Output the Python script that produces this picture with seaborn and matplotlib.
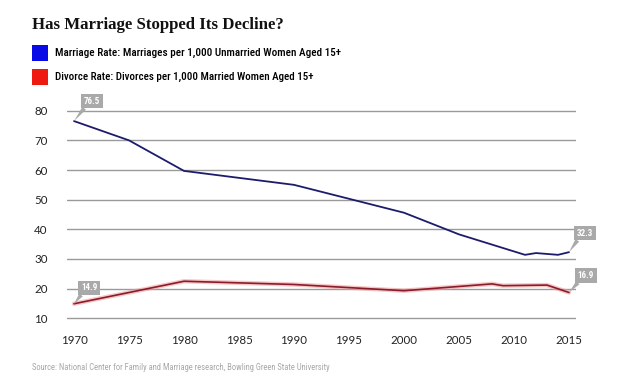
import seaborn as sns
import matplotlib.pyplot as plt
from matplotlib.patches import Rectangle
from matplotlib import font_manager as fm

# data
marriage_years = [1970, 1975, 1980, 1990, 2000, 2005, 2011, 2012, 2014, 2015]
marriage_rate = [76.5, 70.0, 59.7, 55.0, 45.6, 38.3, 31.4, 32.0, 31.4, 32.3]
divorce_years = [1970, 1980, 1990, 2000, 2008, 2009, 2013, 2015]
divorce_rate = [14.9, 22.5, 21.4, 19.3, 21.6, 21.0, 21.2, 18.7]

x_ticks = [1970, 1975, 1980, 1985, 1990, 1995, 2000, 2005, 2010, 2015]
y_ticks = [10, 20, 30, 40, 50, 60, 70, 80]

title = 'Has Marriage Stopped Its Decline?'
legend_labels = ['Marriage Rate: Marriages per 1,000 Unmarried Women Aged 15+',
                 'Divorce Rate: Divorces per 1,000 Married Women Aged 15+']
source = 'Source: National Center for Family and Marriage research, Bowling Green State University'

# callouts: (label, year, value, dx px, dy px)
callouts = [('76.5', 1970, 76.5, 18, 20),
            ('14.9', 1970, 14.9, 15, 16),
            ('32.3', 2015, 32.3, 16, 19),
            ('16.9', 2015, 18.7, 17, 17)]

sns.set_style('white')
plt.rcParams['font.family'] = ['Lato', 'DejaVu Sans']

# pick the narrowest sans we have
names = {f.name for f in fm.fontManager.ttflist}
narrow = next((n for n in ['Roboto Condensed', 'Liberation Sans Narrow', 'Open Sans Condensed', 'Roboto']
               if n in names), 'DejaVu Sans')

W, H = 634, 381
fig = plt.figure(figsize=(W / 100, H / 100), dpi=100)

# plot area in pixels (gridline 10 at y=318, 80 at y=111)
px_unit = 207.6 / 70
left, right = 67, 576
bot = 318.3 + 0.5 * px_unit
top = 110.7 - 0.5 * px_unit
ax = fig.add_axes([left / W, (H - bot) / H, (right - left) / W, (bot - top) / H])

navy = '#1c1b6c'
dark_red = '#8a1b2b'

sns.lineplot(x=divorce_years, y=divorce_rate, ax=ax, color='#f29a9a', lw=3.2, alpha=0.55)
sns.lineplot(x=divorce_years, y=divorce_rate, ax=ax, color=dark_red, lw=1.2)
sns.lineplot(x=marriage_years, y=marriage_rate, ax=ax, color=navy, lw=1.3)

ax.set_xlim(1970 - 7 / 11, 2015 + 7 / 11)
ax.set_ylim(9.5, 80.5)
ax.set_xticks(x_ticks)
ax.set_yticks(y_ticks)
ax.set_xticklabels([str(t) for t in x_ticks], fontsize=8.3, color='#222222')
ax.set_yticklabels([str(t) for t in y_ticks], fontsize=8.3, color='#222222')
ax.tick_params(axis='x', length=0, pad=11)
ax.tick_params(axis='y', length=0, pad=14)
ax.yaxis.grid(True, color='#9a9a9a', lw=1)
ax.xaxis.grid(False)
ax.set_axisbelow(True)
for s in ax.spines.values():
    s.set_visible(False)
ax.set_xlabel('')
ax.set_ylabel('')

for label, yr, val, dx, dy in callouts:
    ax.annotate(label, xy=(yr, val), xytext=(dx, dy), textcoords='offset pixels',
                ha='center', va='center', fontsize=6.5, fontweight='bold', color='white',
                family=[narrow, 'DejaVu Sans'],
                bbox=dict(boxstyle='square,pad=0.3', fc='#a9a9a9', ec='none'),
                arrowprops=dict(arrowstyle='wedge,tail_width=0.5', fc='#a9a9a9', ec='none',
                                shrinkA=0, shrinkB=0, relpos=(0.15, 0.0)),
                annotation_clip=False)

renderer = fig.canvas.get_renderer()


def fit(t, target_px):
    # shrink/grow a text so it spans the same width as in the reference
    w = t.get_window_extent(renderer).width
    t.set_fontsize(t.get_fontsize() * target_px / w)


# title and legend
t = fig.text(32 / W, 1 - 25 / H, title, fontsize=13.5, fontweight='heavy', color='#111111',
             family=['Liberation Serif', 'DejaVu Serif'], va='center', ha='left')
fit(t, 251)

for i, (lab, col) in enumerate(zip(legend_labels, ['#0a0ae6', '#ee1a12'])):
    yc = 53 + i * 24
    fig.patches.append(Rectangle((32 / W, 1 - (yc + 8) / H), 16 / W, 16 / H,
                                 transform=fig.transFigure, fc=col, ec='none'))
    t = fig.text(55 / W, 1 - yc / H, lab, fontsize=8.5, color='#000000', fontweight='medium',
                 family=[narrow, 'DejaVu Sans'], va='center', ha='left')
    fit(t, 284 if i == 0 else 258)

t = fig.text(32 / W, 1 - 368 / H, source, fontsize=6.5, color='#a8a8a8',
             family=[narrow, 'DejaVu Sans'], va='center', ha='left')
fit(t, 298)

fig.savefig('out.png', dpi=100)
